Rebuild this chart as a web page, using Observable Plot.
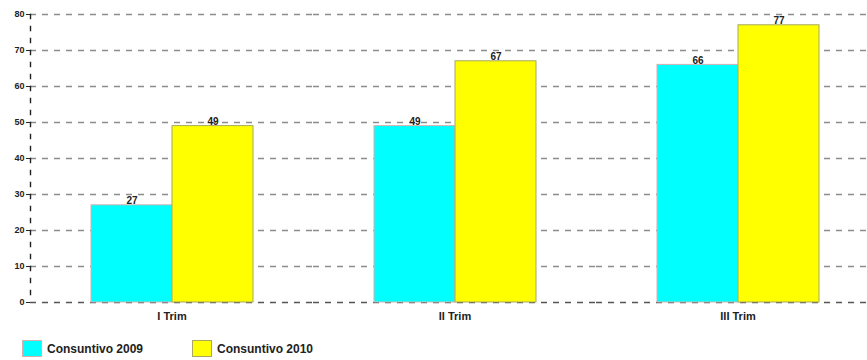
<!DOCTYPE html>
<html>
<head>
<meta charset="utf-8">
<script src="https://cdn.jsdelivr.net/npm/d3@7"></script>
<script src="https://cdn.jsdelivr.net/npm/@observablehq/plot@0.6"></script>
<style>
  body { margin: 0; background: #fff; font-family: "Liberation Sans", Arial, sans-serif; }
  #chart svg { display: block; }
  #legend { position: relative; height: 30px; }
  .item { position: absolute; top: 10px; display: flex; align-items: center; font-size: 12px; font-weight: bold; color: #222; }
  .swatch { width: 20px; height: 17px; margin-right: 5px; box-sizing: border-box; }
</style>
</head>
<body>
<div id="chart"></div>
<div id="legend"></div>
<script>
// Quarterly totals, 2009 vs 2010
const quarters = ["I Trim", "II Trim", "III Trim"];
const series = ["Consuntivo 2009", "Consuntivo 2010"];
const values2009 = [27, 49, 66];
const values2010 = [49, 67, 77];
const yTicks = [0, 10, 20, 30, 40, 50, 60, 70, 80];
const colors = ["#00ffff", "#ffff00"];
const outlines = ["#d8b0b0", "#a8a860"];

const rows = quarters.flatMap((q, i) => [
  {quarter: q, serie: series[0], value: values2009[i]},
  {quarter: q, serie: series[1], value: values2010[i]}
]);

const chart = Plot.plot({
  width: 867,
  height: 330,
  marginTop: 14,
  marginBottom: 28,
  marginLeft: 30,
  marginRight: -12,
  style: {fontFamily: "Liberation Sans, Arial, sans-serif", background: "#fff"},
  fx: {domain: quarters, padding: 0, label: null},
  x: {domain: series, paddingInner: 0, paddingOuter: 0.726, axis: null},
  y: {domain: [0, 80], ticks: yTicks, label: null},
  color: {domain: series, range: colors},
  marks: [
    // dashed horizontal grid
    Plot.ruleY(yTicks.filter(d => d > 0), {stroke: "#8c8c8c", strokeWidth: 1.6, strokeDasharray: "6,6"}),
    Plot.ruleY([0], {stroke: "#555", strokeWidth: 1.4, strokeDasharray: "6,6"}),
    Plot.barY(rows, {
      fx: "quarter", x: "serie", y: "value", fill: "serie",
      stroke: d => outlines[series.indexOf(d.serie)], strokeWidth: 1
    }),
    Plot.text(rows, {
      fx: "quarter", x: "serie", y: "value", text: d => String(d.value),
      lineAnchor: "bottom", dy: -1, fontSize: 10, fontWeight: "bold", fill: "#222"
    }),
    // dashed vertical axis line on the first quarter only
    Plot.frame({anchor: "left", fx: ["I Trim"], stroke: "#222", strokeWidth: 1.4, strokeDasharray: "4,8"}),
    Plot.axisY({ticks: yTicks, tickSize: 4, tickPadding: 2, fontSize: 9, fontWeight: "bold", fill: "#222", stroke: "#222"}),
    Plot.axisFx({anchor: "bottom", tickSize: 0, tickPadding: 10, fontSize: 11, fontWeight: "bold", fill: "#222", label: null})
  ]
});
document.getElementById("chart").appendChild(chart);

// legend
const legend = document.getElementById("legend");
const lefts = [22, 192];
series.forEach((s, i) => {
  const item = document.createElement("div");
  item.className = "item";
  item.style.left = lefts[i] + "px";
  const sw = document.createElement("span");
  sw.className = "swatch";
  sw.style.background = colors[i];
  sw.style.border = "1px solid " + outlines[i];
  const label = document.createElement("span");
  label.textContent = s;
  item.appendChild(sw);
  item.appendChild(label);
  legend.appendChild(item);
});
</script>
</body>
</html>
